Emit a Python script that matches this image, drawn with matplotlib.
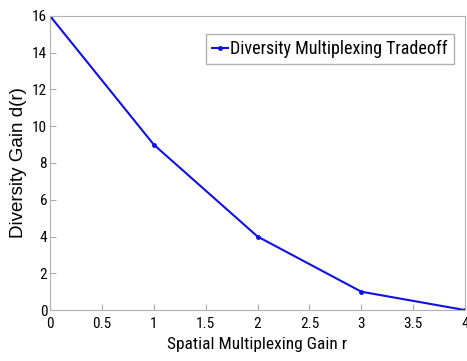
import matplotlib
matplotlib.use("Agg")
import matplotlib.pyplot as plt
from matplotlib import font_manager

# spatial multiplexing gain r vs diversity gain d(r)
r = [0, 1, 2, 3, 4]
d = [16, 9, 4, 1, 0]
x_ticks = [0, 0.5, 1, 1.5, 2, 2.5, 3, 3.5, 4]
y_ticks = [0, 2, 4, 6, 8, 10, 12, 14, 16]

names = {f.name for f in font_manager.fontManager.ttflist}
narrow = [n for n in ["Liberation Sans Narrow", "Roboto Condensed", "DejaVu Sans Condensed"] if n in names]
plt.rcParams["font.family"] = narrow + ["Liberation Sans", "DejaVu Sans"]

fig = plt.figure(figsize=(4.67, 3.61), dpi=100)
ax = fig.add_axes([0.107, 0.141, 0.889, 0.815])

ax.plot(r, d, color="#1010e0", linewidth=1.5, marker=".", markersize=5,
        label="Diversity Multiplexing Tradeoff")

ax.set_xlim(0, 4)
ax.set_ylim(0, 16)
ax.set_xticks(x_ticks)
ax.set_xticklabels([f"{t:g}" for t in x_ticks])
ax.set_yticks(y_ticks)
ax.tick_params(direction="in", length=4, labelsize=11, color="#aaaaaa", pad=2)
ax.tick_params(axis="x", pad=5)
for s in ax.spines.values():
    s.set_color("#b0b0b0")

ax.set_xlabel("Spatial Multiplexing Gain r", fontsize=12.5, labelpad=4)
ax.set_ylabel("Diversity Gain d(r)", fontsize=13.5, family=["Liberation Sans", "DejaVu Sans"], labelpad=4)

leg = ax.legend(loc="upper right", bbox_to_anchor=(0.995, 0.97), fontsize=13,
                fancybox=False, handlelength=0.9, handletextpad=0.1,
                borderpad=0.35, framealpha=1)
leg.get_frame().set_edgecolor("#b0b0b0")

fig.savefig("out.png", dpi=100)
